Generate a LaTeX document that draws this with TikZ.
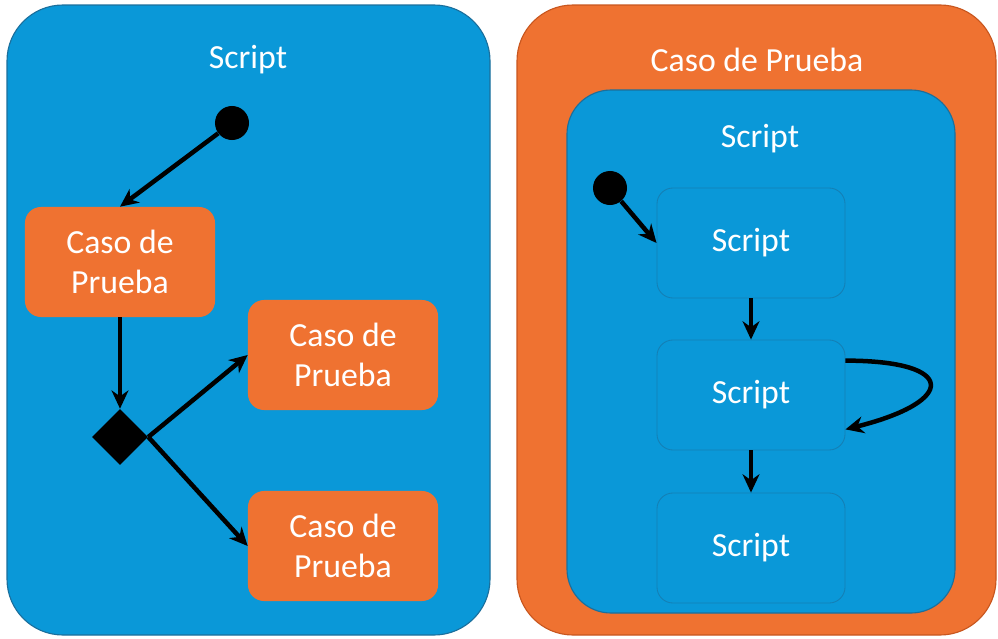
\documentclass[tikz,border=0pt]{standalone}
\usepackage{fontspec}
\setmainfont{Carlito}
\usetikzlibrary{shapes.geometric,arrows.meta}

\definecolor{scriptblue}{HTML}{0A98D8}
\definecolor{casoorange}{HTML}{EF7231}
\definecolor{blueline}{HTML}{1B6F9C}
\definecolor{orangeline}{HTML}{C8561E}

\tikzset{
  caso/.style={rectangle,rounded corners=0.4cm,fill=casoorange,text=white,align=center,
    minimum width=4.75cm,minimum height=2.75cm,font=\fontsize{24}{29}\selectfont},
  scriptbox/.style={rectangle,rounded corners=0.4cm,fill=scriptblue,draw=blueline!60!scriptblue,
    line width=0.6pt,text=white,minimum width=4.7cm,minimum height=2.75cm,font=\fontsize{24}{29}\selectfont},
  title/.style={text=white,font=\fontsize{24}{29}\selectfont},
  start/.style={circle,fill=black,minimum size=0.85cm,inner sep=0pt},
  flow/.style={-{Stealth[length=13pt,width=12pt]},line width=3.2pt},
}

\begin{document}
\begin{tikzpicture}[x=0.025cm,y=-0.025cm]
  \useasboundingbox (0,0) rectangle (998,638);

  % left: script with test cases
  \draw[fill=scriptblue,draw=blueline,line width=0.8pt,rounded corners=1.4cm] (7,5) rectangle (490,635);
  \node[title] (lt) at (248,60) {Script};
  \node[start] (ls) at (232,123) {};
  \node[caso] (l1) at (120,262) {Caso de\\Prueba};
  \node[caso] (l2) at (343,355) {Caso de\\Prueba};
  \node[caso] (l3) at (343,546) {Caso de\\Prueba};
  \node[diamond,aspect=1,fill=black,minimum size=1.4cm,inner sep=0pt] (ld) at (120,437) {};

  \draw[flow] (ls) -- (l1.north);
  \draw[flow] (l1) -- (ld);
  \draw[flow] (ld.east) -- (l2.west);
  \draw[flow] (ld.east) -- (l3.west);

  % right: test case with scripts
  \draw[fill=casoorange,draw=orangeline,line width=0.8pt,rounded corners=1.4cm] (517,5) rectangle (996,635);
  \draw[fill=scriptblue,draw=blueline,line width=0.8pt,rounded corners=1.1cm] (567,90) rectangle (955,613);
  \node[title] (rt) at (757,60) {Caso de Prueba};
  \node[title] (rs) at (760,139) {Script};
  \node[start] (rd) at (610,188) {};
  \node[scriptbox] (r1) at (751,243) {Script};
  \node[scriptbox] (r2) at (751,395) {Script};
  \node[scriptbox] (r3) at (751,548) {Script};

  \draw[flow] (rd) -- (r1.west);
  \draw[flow] (r1) -- (r2);
  \draw[flow] (r2) -- (r3);
  \draw[flow] (r2.20) .. controls +(2.8cm,0) and +(2.8cm,0.7cm) .. (r2.-20);
\end{tikzpicture}
\end{document}
